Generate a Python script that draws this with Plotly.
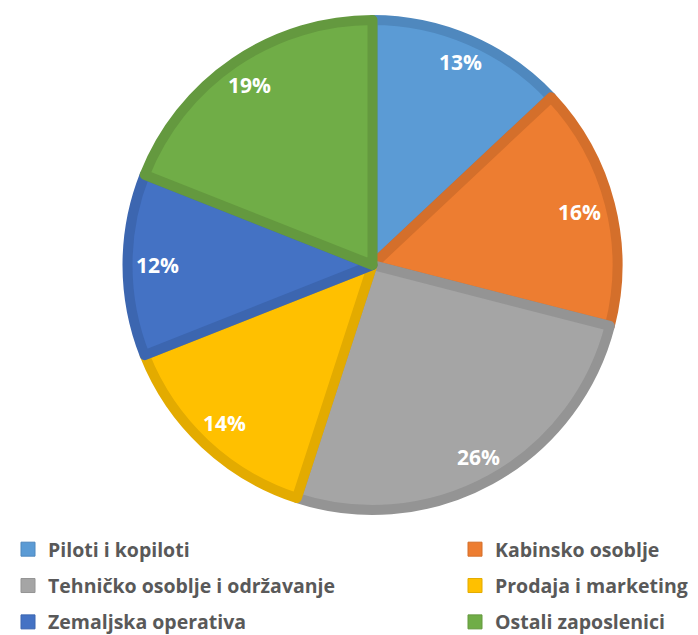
import math
import plotly.graph_objects as go

categories = ["Piloti i kopiloti", "Kabinsko osoblje", "Tehničko osoblje i održavanje",
              "Prodaja i marketing", "Zemaljska operativa", "Ostali zaposlenici"]
shares = [13, 16, 26, 14, 12, 19]
fill_colors = ["#5B9BD5", "#ED7D31", "#A5A5A5", "#FFC000", "#4472C4", "#70AD47"]
edge_colors = ["#4F88BE", "#D46F2B", "#949494", "#E3AB00", "#3C66B0", "#64993F"]

# the page body keeps its default 8px margin, so the figure is drawn 8px in
PAGE_OFF = 8
W, H = 698 - PAGE_OFF, 635 - PAGE_OFF
cx, cy, R = 372.5 - PAGE_OFF, 265 - PAGE_OFF, 250   # pie centre / outer radius (px)
EDGE = 10                                           # slice border width (px)

FONT = "Open Sans"

fig = go.Figure()

# slices
Ri = R - EDGE / 2
fig.add_trace(go.Pie(
    labels=categories,
    values=shares,
    sort=False,
    direction="clockwise",
    rotation=0,
    marker=dict(colors=fill_colors, line=dict(color=edge_colors, width=EDGE)),
    textinfo="none",
    hoverinfo="label+percent",
    domain=dict(x=[(cx - Ri) / W, (cx + Ri) / W], y=[1 - (cy + Ri) / H, 1 - (cy - Ri) / H]),
    showlegend=False,
))

# hidden unit axes aligned with the pie circle, used for the percentage labels
fig.update_xaxes(domain=[(cx - R) / W, (cx + R) / W], range=[-1, 1], visible=False, fixedrange=True)
fig.update_yaxes(domain=[1 - (cy + R) / H, 1 - (cy - R) / H], range=[-1, 1], visible=False, fixedrange=True)

# legend entries (two columns)
for i, (cat, fc, ec) in enumerate(zip(categories, fill_colors, edge_colors)):
    fig.add_trace(go.Scatter(
        x=[None], y=[None], mode="markers", name=cat,
        marker=dict(symbol="square", size=14, color=fc, line=dict(color=ec, width=1)),
        legend="legend" if i % 2 == 0 else "legend2",
        legendgroup=cat, showlegend=True, hoverinfo="skip",
    ))

# percentage labels, "inside end" placement
total = sum(shares)
r_in, hw, hh = 237, 22, 8
cum = 0
for s in shares:
    phi = 2 * math.pi * (cum + s / 2) / total   # clockwise from top
    cum += s
    rr = (r_in - (hw * abs(math.sin(phi)) + hh * abs(math.cos(phi)))) / R
    fig.add_annotation(
        x=rr * math.sin(phi), y=rr * math.cos(phi), xref="x", yref="y",
        text=f"{round(100 * s / total)}%", showarrow=False,
        font=dict(family=FONT, size=21, color="white", weight="bold"),
    )

legend_common = dict(
    orientation="v",
    xref="paper", yref="paper",
    yanchor="top", xanchor="left",
    tracegroupgap=8,
    bgcolor="rgba(0,0,0,0)",
    font=dict(family=FONT, size=19.5, color="#595959", weight="bold"),
)

fig.update_layout(
    width=W, height=H,
    margin=dict(l=0, r=0, t=0, b=0, autoexpand=False),
    paper_bgcolor="white",
    plot_bgcolor="white",
    legend=dict(x=0.0, y=1 - 522 / H, **legend_common),
    legend2=dict(x=447 / W, y=1 - 522 / H, **legend_common),
)

fig.write_html("out.html")
